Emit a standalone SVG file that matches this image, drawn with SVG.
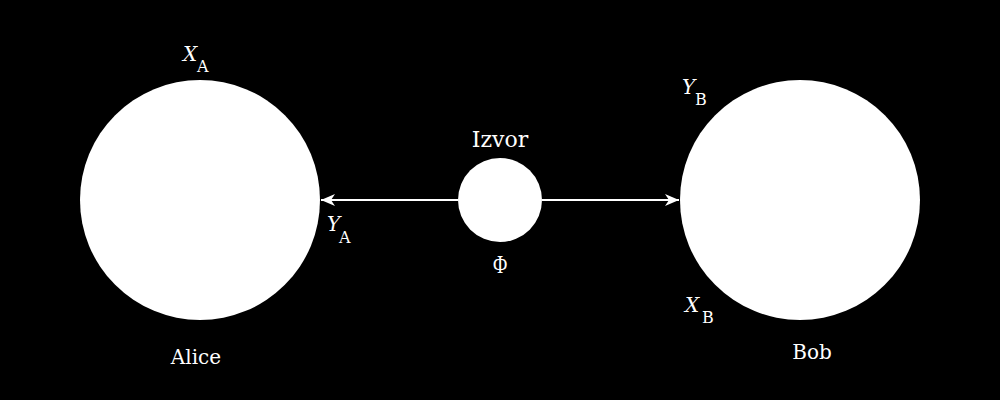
<svg xmlns="http://www.w3.org/2000/svg" width="1000" height="400" viewBox="0 0 1000 400">
<style>
text{font-family:"DejaVu Serif","Liberation Serif",serif;fill:#fff}
.lab{font-size:20px}
.v{font-size:20px;font-style:italic}
.s{font-size:16px;font-style:normal}
.node{fill:#fff}
.conn{stroke:#fff;stroke-width:2;fill:none}
</style>
<defs>
<marker id="ah" viewBox="0 0 14 12" refX="14" refY="6" markerWidth="14" markerHeight="12" markerUnits="userSpaceOnUse" orient="auto">
<path d="M0,0 L14,6 L0,12 L4,6 z" fill="#fff"/>
</marker>
</defs>
<rect width="1000" height="400" fill="#000"/>
<g id="connectors">
<line class="conn" x1="458" y1="200" x2="321" y2="200" marker-end="url(#ah)"/>
<line class="conn" x1="542" y1="200" x2="679" y2="200" marker-end="url(#ah)"/>
</g>
<g id="alice">
<circle class="node" cx="200" cy="200" r="120"/>
<text class="lab" x="196" y="364" text-anchor="middle">Alice</text>
<text class="v" x="183" y="61">X</text><text class="s" x="197" y="72">A</text>
<text class="v" x="327" y="231">Y</text><text class="s" x="339" y="243">A</text>
</g>
<g id="izvor">
<circle class="node" cx="500" cy="200" r="42"/>
<text class="lab" x="500" y="147" text-anchor="middle" style="font-size:22px">Izvor</text>
<text x="0" y="273" text-anchor="middle" transform="translate(500 0) scale(0.75 1)" style="font-family:'Liberation Serif',serif;font-size:26px">Φ</text>
</g>
<g id="bob">
<circle class="node" cx="800" cy="200" r="120"/>
<text class="lab" x="812" y="359" text-anchor="middle">Bob</text>
<text class="v" x="682" y="94">Y</text><text class="s" x="695" y="105">B</text>
<text class="v" x="685" y="312">X</text><text class="s" x="702" y="323">B</text>
</g>
</svg>
